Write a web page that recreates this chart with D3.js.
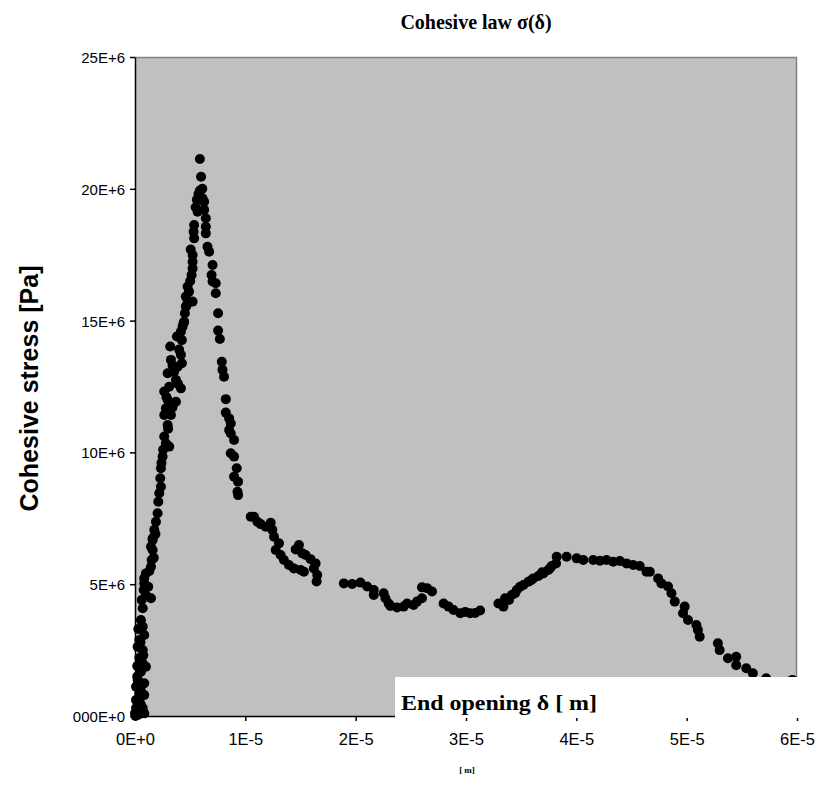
<!DOCTYPE html>
<html>
<head>
<meta charset="utf-8">
<script src="https://cdn.jsdelivr.net/npm/d3@7"></script>
<style>
  body { margin: 0; background: #fff; }
  svg { display: block; }
</style>
</head>
<body>
<svg id="chart"></svg>
<script>
(function() {

// opening in micrometres, stress in MPa
const openingUm = [
    // foot of the curve
    0.00,0.84,0.24,0.54,0.09,0.84,0.39,0.09,0.84,0.24,0.54,0.99,0.70,0.70,0.24,0.39,0.84,0.70,0.54,0.70,
    0.61,1.45,0.99,0.79,0.84,0.84,0.99,1.45,1.51,1.60,1.60,0.05,0.30,0.10,0.50,0.20,0.40,0.60,
    0.15,0.45,0.70,0.30,0.65,0.20,0.75,0.50,0.30,
    // rising branch
    1.45,1.60,1.75,1.90,2.05,2.11,2.20,2.35,2.29,2.35,2.50,3.10,2.80,2.65,2.96,3.26,2.65,2.80,3.71,2.96,
    2.65,4.16,3.10,3.71,3.55,2.96,3.86,4.25,3.26,4.16,3.19,4.25,
    1.20,1.30,1.70,1.85,2.40,2.55,3.00,3.40,2.85,3.90,3.40,4.00,3.80,
    4.16,4.31,4.46,4.52,4.61,5.22,4.61,4.77,5.13,5.22,5.22,5.22,5.36,5.31,5.36,5.67,5.61,5.88,5.99,5.88,
    4.40,4.70,4.90,5.00,5.05,5.50,5.75,6.10,
    // softening branch
    6.12,6.27,6.27,6.42,6.42,6.42,6.57,6.72,7.03,6.94,7.03,7.32,7.32,7.53,7.53,7.69,7.87,7.93,8.07,8.23,
    8.23,8.53,8.68,8.53,8.68,8.98,8.68,8.98,9.22,8.98,9.34,9.29,9.34,
    // plateau
    10.49,10.79,11.09,11.39,11.85,12.30,12.45,12.60,13.05,12.75,13.20,13.50,13.95,14.40,15.01,15.31,14.86,
    14.56,15.16,15.46,15.91,16.37,16.21,16.52,16.46,
    18.93,19.68,20.43,21.04,21.64,21.64,22.54,22.70,22.99,23.15,23.75,24.35,24.66,25.25,25.56,26.01,26.01,
    26.47,26.92,27.97,28.42,28.87,29.48,29.93,30.38,30.83,31.28,
    // second hump
    32.94,33.39,33.54,34.15,34.45,34.60,35.20,35.65,36.10,36.56,37.01,37.46,37.77,38.16,38.22,39.12,40.03,
    40.63,41.53,42.14,42.74,43.34,43.94,44.55,45.15,45.75,46.36,46.66,47.41,47.71,48.31,48.62,48.92,49.82,
    49.67,50.12,50.88,51.02,51.18,52.83,52.99,53.74,54.49,54.49,55.40,56.00,57.21,58.41,59.58,
    33.90,34.90,35.90,36.90,37.60
];

const stressMPa = [
    0.10,0.10,0.23,0.42,0.61,0.80,0.86,1.11,1.24,1.37,1.68,1.87,2.00,2.50,2.63,2.88,3.07,3.39,3.64,4.09,
    4.40,4.47,4.59,4.78,5.03,5.22,5.41,5.66,5.92,6.30,6.68,0.00,0.05,0.30,1.00,1.50,2.20,0.20,
    0.60,0.50,0.30,1.30,1.20,1.90,2.30,2.80,3.30,
    6.42,6.74,7.06,7.37,7.69,8.13,8.45,8.70,9.02,9.40,9.84,10.22,10.35,10.60,11.04,11.42,11.42,11.67,11.92,11.99,
    12.31,12.43,12.49,12.75,13.06,13.00,13.25,13.38,13.51,13.70,14.02,14.26,
    4.90,5.50,6.00,6.90,9.60,10.10,10.90,11.70,12.10,12.60,13.30,13.90,14.40,
    14.58,14.77,14.96,15.28,15.53,15.72,15.91,16.29,16.73,16.98,17.23,17.49,18.12,18.37,18.63,19.13,19.58,19.93,20.46,21.13,
    14.90,15.60,16.10,16.50,17.70,19.30,19.80,20.00,
    19.64,19.51,19.20,18.88,18.56,18.31,17.80,17.61,17.11,16.73,16.48,16.42,16.04,15.28,14.62,14.30,13.44,13.13,12.87,12.02,
    11.51,11.29,11.10,10.85,10.72,10.47,9.97,9.84,9.40,9.08,8.89,8.51,8.38,
    7.56,7.56,7.37,7.28,7.18,7.33,7.06,6.80,6.55,6.30,6.11,5.92,5.73,5.60,5.54,5.47,6.49,
    6.32,6.17,6.11,5.95,5.79,5.60,5.35,5.10,
    5.03,5.01,5.06,4.91,4.78,4.59,4.66,4.47,4.27,4.17,4.12,4.15,4.27,4.21,4.34,4.47,4.88,
    4.85,4.72,4.27,4.15,4.02,3.90,3.95,3.90,3.91,4.00,
    4.27,4.15,4.47,4.59,4.66,4.78,4.97,5.09,5.22,5.31,5.41,5.54,5.69,5.79,6.04,6.04,5.98,
    5.92,5.92,5.89,5.92,5.85,5.88,5.79,5.73,5.69,5.47,5.47,5.22,5.03,4.91,4.66,4.34,4.15,
    3.90,3.64,3.45,3.26,3.01,2.76,2.50,2.19,2.25,1.93,1.81,1.62,1.43,1.29,1.37,
    4.40,4.90,5.15,5.45,5.60
];

const xTicks = [0, 1e-5, 2e-5, 3e-5, 4e-5, 5e-5, 6e-5];
const xTickLabels = ["0E+0", "1E-5", "2E-5", "3E-5", "4E-5", "5E-5", "6E-5"];
const yTicks = [0, 5e6, 10e6, 15e6, 20e6, 25e6];
const yTickLabels = ["000E+0", "5E+6", "10E+6", "15E+6", "20E+6", "25E+6"];

const titleText = "Cohesive law \u03c3(\u03b4)";
const yTitle = "Cohesive stress [Pa]";
const boxText = "End opening \u03b4 [ m]";
const xUnit = "[ m]";

const W = 821, H = 789;
const margin = { top: 57, right: 24, bottom: 73, left: 135 };
const width = W - margin.left - margin.right;
const height = H - margin.top - margin.bottom;

const data = openingUm.map((d, i) => ({ x: d * 1e-6, y: stressMPa[i] * 1e6 }));

const svg = d3.select("#chart")
    .attr("width", W)
    .attr("height", H);

const g = svg.append("g")
    .attr("transform", `translate(${margin.left},${margin.top})`);

const x = d3.scaleLinear().domain([0, 6e-5]).range([0, width]);
const y = d3.scaleLinear().domain([0, 25e6]).range([height, 0]);

// plot area
g.append("rect")
    .attr("width", width)
    .attr("height", height)
    .attr("fill", "#c0c0c0");

// top and right border
g.append("path")
    .attr("d", `M0,0.5H${width - 0.5}V${height}`)
    .attr("fill", "none")
    .attr("stroke", "#808080")
    .attr("stroke-width", 1.5);

g.selectAll(".dot")
    .data(data)
    .enter().append("circle")
    .attr("class", "dot")
    .attr("cx", d => x(d.x))
    .attr("cy", d => y(d.y))
    .attr("r", 5)
    .attr("fill", "#000");

// Y-axis
const yAxis = g.append("g")
    .call(d3.axisLeft(y)
        .tickValues(yTicks)
        .tickFormat((d, i) => yTickLabels[i])
        .tickSize(5)
        .tickSizeOuter(0));

// X-axis
const xAxis = g.append("g")
    .attr("transform", `translate(0,${height})`)
    .call(d3.axisBottom(x)
        .tickValues(xTicks)
        .tickFormat((d, i) => xTickLabels[i])
        .tickSize(5)
        .tickSizeOuter(0));

[yAxis, xAxis].forEach(a => {
    a.selectAll("path, line").attr("stroke", "#000").attr("stroke-width", 1.5);
    a.selectAll("text")
        .attr("font-family", "'Liberation Sans', Arial, sans-serif")
        .attr("fill", "#000");
});
yAxis.selectAll("text").attr("x", -10).attr("dy", "0.36em").attr("font-size", "15px");
xAxis.selectAll("text").attr("y", 23).attr("dy", "0.36em").attr("font-size", "16.5px");

// white label box over the lower right of the plot
g.append("rect")
    .attr("x", 395 - margin.left)
    .attr("y", 677 - margin.top)
    .attr("width", W - 395)
    .attr("height", 41)
    .attr("fill", "#fff");

g.append("text")
    .attr("x", 401 - margin.left)
    .attr("y", 710 - margin.top)
    .attr("font-family", "'Liberation Serif', 'Times New Roman', serif")
    .attr("font-weight", "bold")
    .attr("font-size", "21px")
    .attr("textLength", 196)
    .attr("lengthAdjust", "spacingAndGlyphs")
    .text(boxText);

// title
svg.append("text")
    .attr("x", 476)
    .attr("y", 29)
    .attr("text-anchor", "middle")
    .attr("font-family", "'Liberation Serif', 'Times New Roman', serif")
    .attr("font-weight", "bold")
    .attr("font-size", "20px")
    .text(titleText);

// y title
svg.append("text")
    .attr("transform", `translate(38,${margin.top + height / 2 + 2}) rotate(-90)`)
    .attr("text-anchor", "middle")
    .attr("font-family", "'Liberation Sans', Arial, sans-serif")
    .attr("font-weight", "bold")
    .attr("font-size", "25px")
    .text(yTitle);

// small unit under the x axis
svg.append("text")
    .attr("x", 467)
    .attr("y", 773)
    .attr("text-anchor", "middle")
    .attr("font-family", "'Liberation Serif', 'Times New Roman', serif")
    .attr("font-weight", "bold")
    .attr("font-size", "9px")
    .text(xUnit);

})();
</script>
</body>
</html>
